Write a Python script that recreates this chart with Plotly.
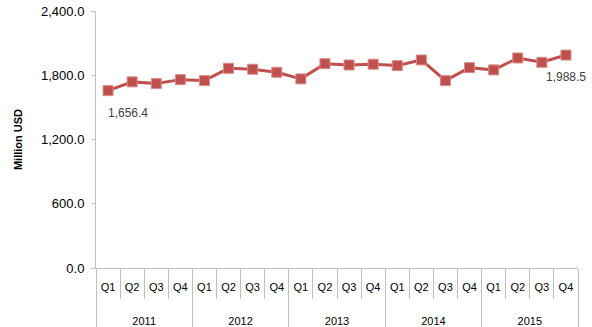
import plotly.graph_objects as go

# Quarterly values, million USD
years = ["2011", "2012", "2013", "2014", "2015"]
quarters = ["Q1", "Q2", "Q3", "Q4"]
values = [1656.4, 1738, 1722, 1759,
          1750, 1865, 1856, 1828,
          1766, 1908, 1896, 1903,
          1890, 1943, 1750, 1871,
          1850, 1961, 1921, 1988.5]
y_ticks = [0, 600, 1200, 1800, 2400]

# year labels sit two lines below the quarter row
x_year = ["<br><br>" + y for y in years for _ in quarters]
x_q = [q for _ in years for q in quarters]

red = "#C0504D"
grey = "#BFBFBF"

fig = go.Figure(go.Scatter(
    x=[x_year, x_q], y=values,
    mode="lines+markers",
    line=dict(color=red, width=3),
    marker=dict(symbol="square", size=10, color=red,
                line=dict(color="#D98C8A", width=1)),
    hoverinfo="skip",
))

# value labels on the first and last points
for idx, xs in ((0, 20), (len(values) - 1, 0)):
    fig.add_annotation(
        x=idx, y=values[idx], xref="x", yref="y",
        text=f"{values[idx]:,.1f}", showarrow=False,
        xshift=xs, yshift=-22,
        font=dict(family="Liberation Sans", size=12, color="#404040"),
    )

fig.update_layout(
    width=592, height=327,
    margin=dict(l=96, r=14, t=11, b=59),
    paper_bgcolor="white", plot_bgcolor="white",
    showlegend=False,
    font=dict(family="Liberation Sans", color="#000000"),
)
fig.update_xaxes(
    type="multicategory",
    range=[-0.5, len(values) - 0.5], autorange=False,
    showline=True, linecolor=grey, linewidth=1,
    ticks="outside", tickson="boundaries", ticklen=30, tickcolor=grey,
    showdividers=True, dividercolor=grey, dividerwidth=1,
    tickangle=0, tickfont=dict(size=11), ticklabelstandoff=9,
    showgrid=False, zeroline=False, automargin=False,
)
fig.update_yaxes(
    range=[0, 2400], tickvals=y_ticks, tickformat=",.1f",
    showline=True, linecolor=grey, linewidth=1,
    ticks="outside", ticklen=4, tickcolor=grey,
    tickfont=dict(size=13), ticklabelstandoff=4,
    showgrid=False, zeroline=False, automargin=False,
    title=dict(text="<b>Million USD</b>", font=dict(size=11), standoff=16),
)

fig.write_html("out.html")
